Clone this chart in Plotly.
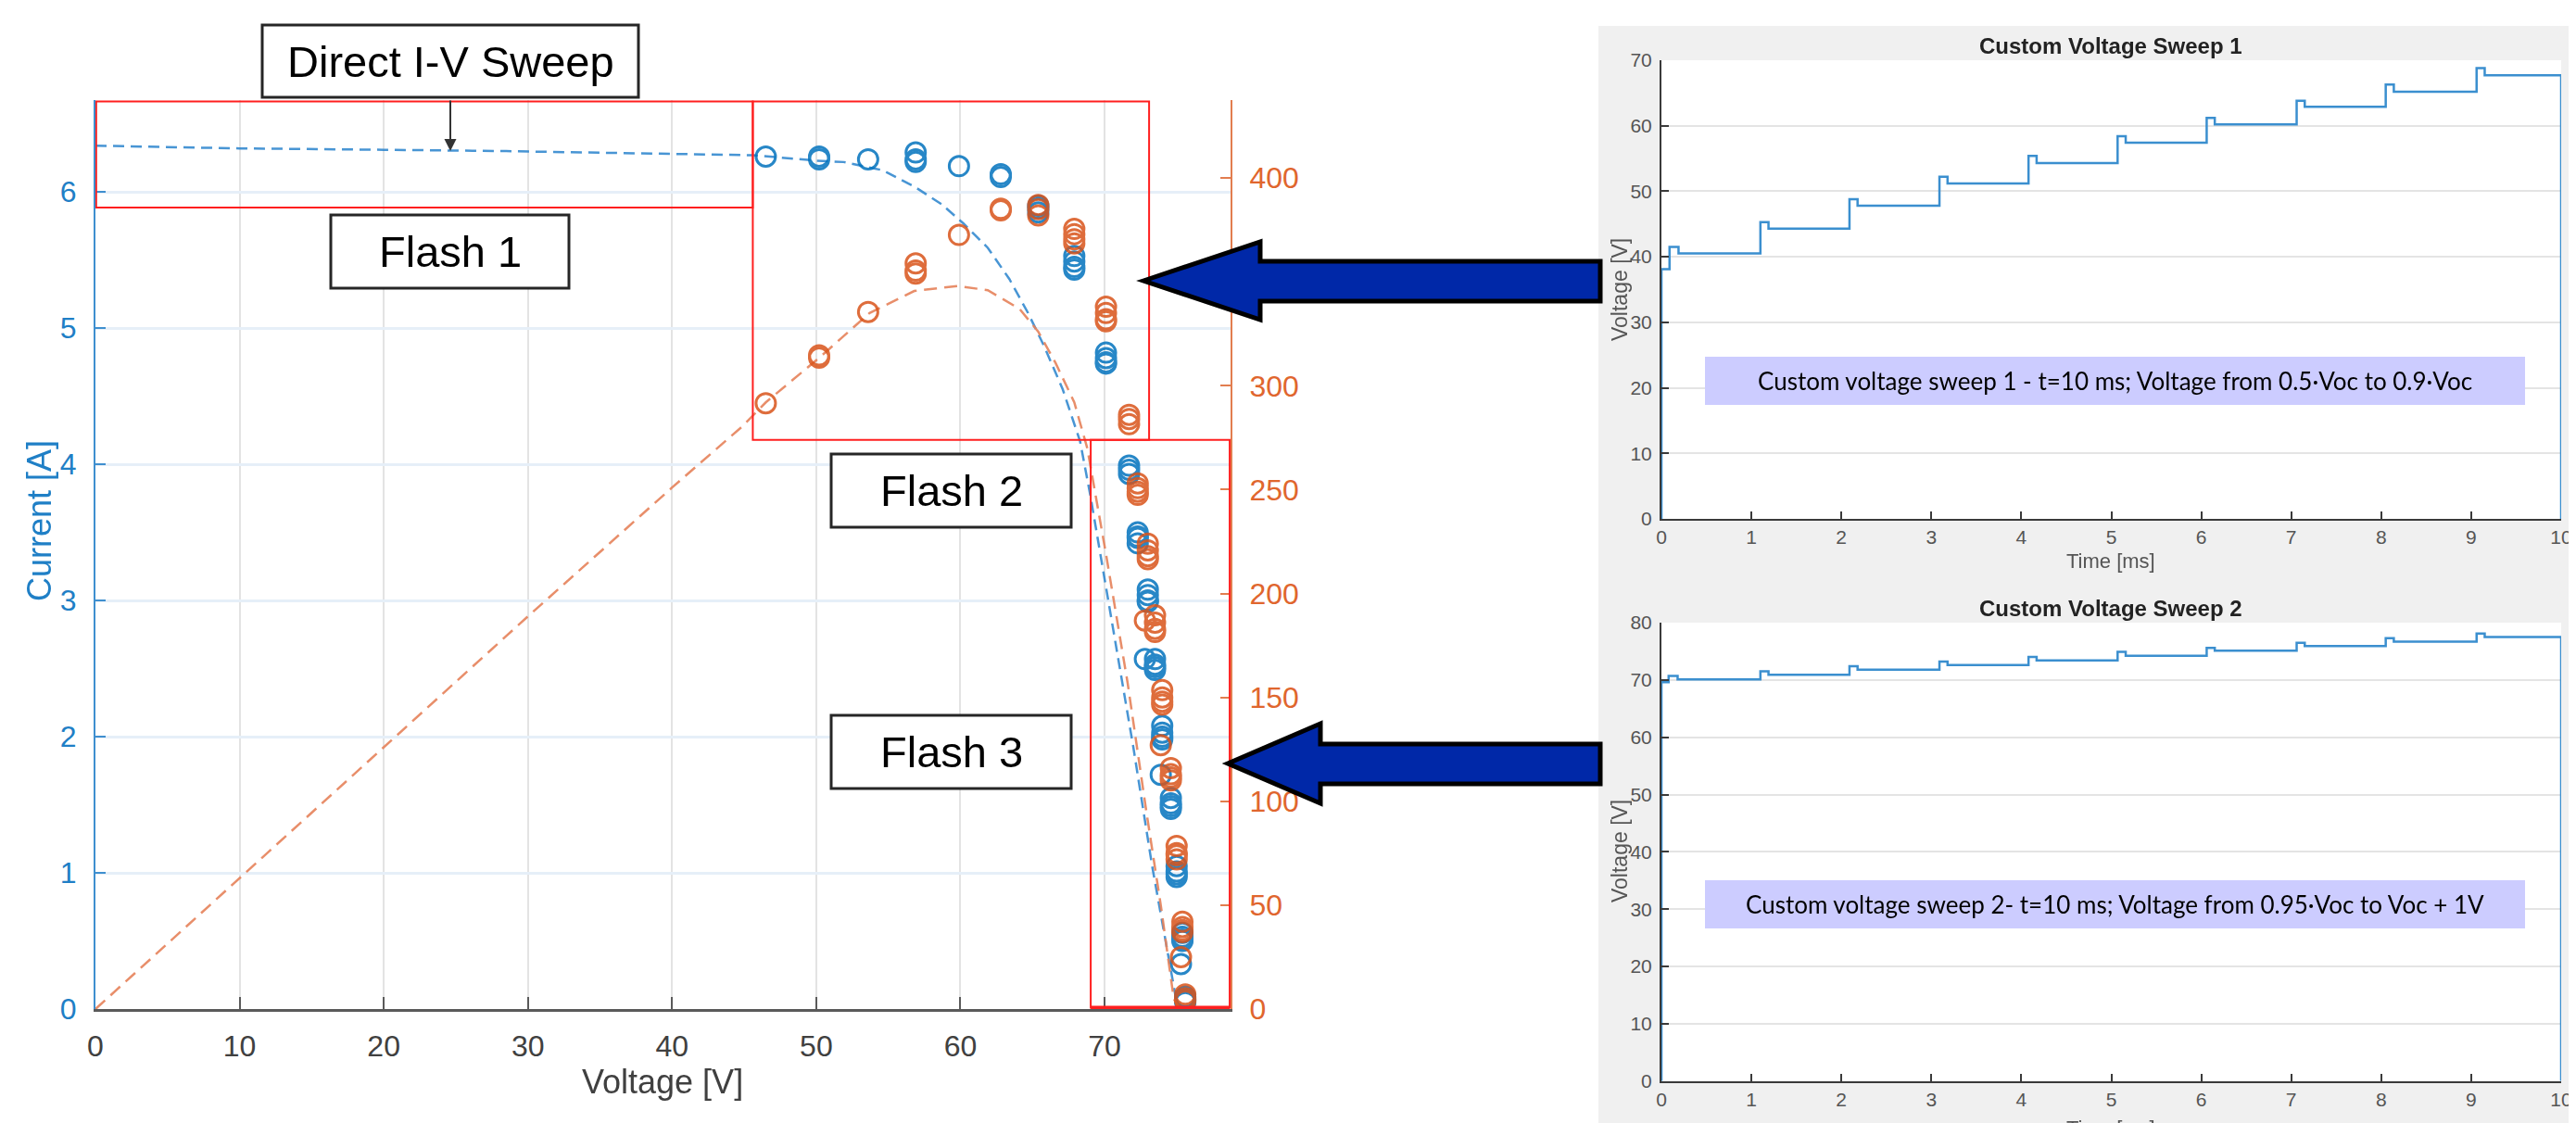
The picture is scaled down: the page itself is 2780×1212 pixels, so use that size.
import plotly.graph_objects as go

# page is 2780x1212; the html body keeps its default 8px margin, so the figure starts
# at (8, 8) and is sized to reach the page's right and bottom edges. All placements
# below are given in page pixels.
PAGE_W, PAGE_H = 2780, 1212
OFF = 8
W, H = PAGE_W - OFF, PAGE_H - OFF

# ---------------- data ----------------
# Direct I-V sweep (dashed curves)
iv_voltage = [0, 10, 20, 28.5, 40, 45.6, 50, 51.9, 54.6, 56.8, 58.7, 60.2, 61.9, 63.4, 64.7,
              65.8, 67.1, 68.3, 69.0, 70.5, 72.0, 73.3, 74.4, 75.0, 75.2]
iv_current = [6.34, 6.32, 6.31, 6.30, 6.28, 6.27, 6.23, 6.22, 6.16, 6.04, 5.91, 5.77, 5.59, 5.36, 5.11,
              4.87, 4.55, 4.17, 3.78, 2.85, 1.92, 1.05, 0.42, 0.05, 0.0]
pv_voltage = [0, 10, 20, 30, 40, 44.8, 46.5, 50.3, 53.7, 56.8, 59.8, 61.9, 64.1, 65.4, 66.6,
              67.9, 68.8, 70.1, 71.6, 72.9, 73.9, 74.8, 75.2]
pv_power = [0, 63, 126, 189, 251, 280, 292, 314, 335, 345.6, 348, 346, 337, 326, 311,
            292, 270, 219, 157, 95, 50, 5, 0]

# Flash measurements (repeated points per operating voltage)
flash_voltage = [46.5, 50.2, 50.2, 53.6, 56.9, 56.9, 56.9, 59.9, 62.8, 62.8,
                 65.4, 65.4, 65.4, 67.9, 67.9, 67.9, 67.9, 70.1, 70.1, 70.1, 70.1,
                 71.7, 71.7, 71.7,
                 72.3, 72.3, 72.3, 72.3, 73.0, 73.0, 73.0, 73.0, 73.5, 73.5, 73.5, 73.5,
                 74.0, 74.0, 74.0, 74.0, 74.6, 74.6, 74.6, 74.6, 75.0, 75.0, 75.0, 75.0,
                 75.4, 75.4, 75.4, 75.4, 75.6, 75.6, 75.6, 75.6, 72.8, 73.9, 75.3]
flash_current = [6.26, 6.24, 6.26, 6.24, 6.24, 6.29, 6.22, 6.19, 6.11, 6.13,
                 5.88, 5.90, 5.85, 5.49, 5.45, 5.53, 5.43, 4.78, 4.74, 4.82, 4.75,
                 3.96, 3.93, 3.99,
                 3.46, 3.50, 3.42, 3.47, 3.04, 3.00, 3.08, 2.99, 2.53, 2.57, 2.49, 2.51,
                 2.03, 2.08, 1.98, 2.00, 1.51, 1.55, 1.47, 1.49, 1.01, 1.05, 0.97, 0.99,
                 0.53, 0.56, 0.50, 0.51, 0.07, 0.09, 0.05, 0.06, 2.57, 1.72, 0.33]
flash_power = [291.6, 313.5, 314.6, 335.5, 355.4, 358.9, 354.0, 372.6, 384.4, 385.2,
               385.0, 387.0, 382.0, 373.0, 370.5, 375.5, 368.5, 335.0, 332.0, 338.0, 331.0,
               284.0, 281.5, 286.0,
               250.7, 253.0, 247.5, 249.0, 220.8, 218.0, 224.0, 216.5, 186.0, 189.5, 183.0, 181.5,
               150.0, 153.5, 146.5, 148.0, 113.0, 116.0, 110.0, 111.5, 75.0, 78.5, 72.0, 74.0,
               39.5, 42.0, 37.0, 38.0, 5.2, 7.0, 4.0, 5.0, 187.0, 127.0, 25.0]

voltage_ticks = [0, 10, 20, 30, 40, 50, 60, 70]
current_ticks = [0, 1, 2, 3, 4, 5, 6]
power_ticks = [0, 50, 100, 150, 200, 250, 300, 350, 400]

# Custom voltage sweeps (breakpoints, step shape)
sweep1_time = [0, 0, 0.09, 0.19, 1.10, 1.19, 2.09, 2.18, 3.09, 3.18, 4.08, 4.17, 5.07, 5.16,
               6.06, 6.15, 7.06, 7.15, 8.05, 8.14, 9.06, 9.15, 10.0]
sweep1_voltage = [0, 38.1, 41.5, 40.5, 45.3, 44.3, 48.8, 47.8, 52.2, 51.2, 55.4, 54.3, 58.4, 57.4,
                  61.2, 60.2, 63.8, 62.9, 66.3, 65.2, 68.8, 67.7, 0]
sweep2_time = [0, 0, 0.08, 0.18, 1.10, 1.19, 2.09, 2.18, 3.09, 3.18, 4.08, 4.17, 5.07, 5.16,
               6.06, 6.15, 7.06, 7.15, 8.05, 8.14, 9.06, 9.15, 10.0]
sweep2_voltage = [0, 69.6, 70.7, 70.1, 71.5, 70.9, 72.4, 71.8, 73.2, 72.6, 74.0, 73.4, 74.9, 74.2,
                  75.6, 75.1, 76.5, 75.9, 77.3, 76.7, 78.1, 77.5, 0]
time_ticks = [0, 1, 2, 3, 4, 5, 6, 7, 8, 9, 10]
sweep1_vticks = [0, 10, 20, 30, 40, 50, 60, 70]
sweep2_vticks = [0, 10, 20, 30, 40, 50, 60, 70, 80]

# ---------------- styling helpers ----------------
BLUE = "#0072BD"
ORANGE = "#D95319"
FONT = "Liberation Sans, Arial, sans-serif"


def px(x):
    return (x - OFF) / W


def py(y):
    return 1 - (y - OFF) / H


fig = go.Figure()

# dashed model curves
fig.add_trace(go.Scatter(x=iv_voltage, y=iv_current, mode="lines", xaxis="x", yaxis="y",
                         line=dict(color="rgba(40,130,205,0.85)", width=2.5, dash="12px,7px"),
                         hoverinfo="skip", showlegend=False))
fig.add_trace(go.Scatter(x=pv_voltage, y=pv_power, mode="lines", xaxis="x", yaxis="y2",
                         line=dict(color="rgba(230,130,90,0.9)", width=2.5, dash="14px,8px"),
                         hoverinfo="skip", showlegend=False))
# flash measurements
fig.add_trace(go.Scatter(x=flash_voltage, y=flash_current, mode="markers", xaxis="x", yaxis="y",
                         marker=dict(symbol="circle-open", size=21, color=BLUE, line=dict(width=3)),
                         opacity=0.85, showlegend=False))
fig.add_trace(go.Scatter(x=flash_voltage, y=flash_power, mode="markers", xaxis="x", yaxis="y2",
                         marker=dict(symbol="circle-open", size=21, color=ORANGE, line=dict(width=3)),
                         opacity=0.85, showlegend=False))
# custom sweeps
fig.add_trace(go.Scatter(x=sweep1_time, y=sweep1_voltage, mode="lines", line_shape="hv",
                         xaxis="x3", yaxis="y3", line=dict(color="#3b8fcf", width=2.5),
                         showlegend=False))
fig.add_trace(go.Scatter(x=sweep2_time, y=sweep2_voltage, mode="lines", line_shape="hv",
                         xaxis="x4", yaxis="y4", line=dict(color="#3b8fcf", width=2.5),
                         showlegend=False))

main_y_dom = [py(1089), py(108)]
main_x_dom = [px(103), px(1328)]
tickfont_main = dict(family=FONT, size=32)

common = dict(automargin=False, zeroline=False, showline=True, ticks="inside", tickwidth=2)
panel_tickfont = dict(family=FONT, size=21, color="#555")

layout = dict(
    template="none",
    width=W, height=H, autosize=False,
    margin=dict(l=0, r=0, t=0, b=0, pad=0, autoexpand=False),
    paper_bgcolor="white", plot_bgcolor="white",
    showlegend=False,
    xaxis=dict(common, domain=main_x_dom, range=[0, 78.74], anchor="y", tickvals=voltage_ticks,
               linecolor="#5a5a5a", linewidth=3, ticklen=13, tickcolor="#5a5a5a",
               tickfont=dict(tickfont_main, color="#404040"), ticklabelstandoff=10,
               showgrid=True, gridcolor="#e3e3e3", gridwidth=2),
    yaxis=dict(common, domain=main_y_dom, range=[0, 6.675], anchor="x", tickvals=current_ticks,
               linecolor="#3f8fcf", linewidth=2, ticklen=11, tickcolor="#3f8fcf",
               tickfont=dict(tickfont_main, color="#1f7fc6"), ticklabelstandoff=12,
               showgrid=True, gridcolor="#e6eff8", gridwidth=3),
    yaxis2=dict(common, range=[0, 437.5], overlaying="y", side="right", anchor="x",
                tickvals=power_ticks, linecolor="#e27d4f", linewidth=2, ticklen=11,
                tickcolor="#e27d4f", tickfont=dict(tickfont_main, color="#e0662e"),
                ticklabelstandoff=12, showgrid=False),
    xaxis3=dict(common, domain=[px(1793), px(2764)], range=[0, 10], anchor="y3", tickvals=time_ticks,
                linecolor="#3a3a3a", linewidth=2, ticklen=8, tickcolor="#3a3a3a",
                tickfont=panel_tickfont, showgrid=False, ticklabeloverflow="allow"),
    yaxis3=dict(common, domain=[py(560), py(65)], range=[0, 70], anchor="x3", tickvals=sweep1_vticks,
                linecolor="#3a3a3a", linewidth=2, ticklen=8, tickcolor="#3a3a3a",
                tickfont=panel_tickfont, ticklabelstandoff=4,
                showgrid=True, gridcolor="#e4e4e4", gridwidth=2),
    xaxis4=dict(common, domain=[px(1793), px(2764)], range=[0, 10], anchor="y4", tickvals=time_ticks,
                linecolor="#3a3a3a", linewidth=2, ticklen=8, tickcolor="#3a3a3a",
                tickfont=panel_tickfont, showgrid=False, ticklabeloverflow="allow"),
    yaxis4=dict(common, domain=[py(1166.7), py(672)], range=[0, 80], anchor="x4", tickvals=sweep2_vticks,
                linecolor="#3a3a3a", linewidth=2, ticklen=8, tickcolor="#3a3a3a",
                tickfont=panel_tickfont, ticklabelstandoff=4,
                showgrid=True, gridcolor="#e4e4e4", gridwidth=2),
)
fig.update_layout(**layout)

shapes = []
# grey MATLAB figure background for the right panels + white plot areas
shapes.append(dict(type="rect", xref="paper", yref="paper", x0=px(1725), x1=1, y0=0, y1=py(28),
                   fillcolor="#f0f0f0", line=dict(width=0), layer="below"))
for ax in ("3", "4"):
    shapes.append(dict(type="rect", xref=f"x{ax} domain", yref=f"y{ax} domain", x0=0, x1=1, y0=0, y1=1,
                       fillcolor="white", line=dict(width=0), layer="below"))

# red region boxes (data coordinates of the main chart)
red = dict(color="#ff1f1f", width=2)
shapes.append(dict(type="rect", xref="x", yref="y", x0=0.05, x1=45.6, y0=5.885, y1=6.665, line=red))
shapes.append(dict(type="rect", xref="x", yref="y", x0=45.6, x1=73.09, y0=4.18, y1=6.665, line=red))
shapes.append(dict(type="rect", xref="x", yref="y", x0=69.04, x1=78.68, y0=0.01, y1=4.18, line=red))
shapes.append(dict(type="line", xref="x", yref="y", x0=69.04, x1=78.68, y0=0.01, y1=0.01,
                   line=dict(color="#ff1f1f", width=4)))


# label boxes
def box(x0, y0, x1, y1):
    return dict(type="rect", xref="paper", yref="paper", x0=px(x0), x1=px(x1), y0=py(y1), y1=py(y0),
                fillcolor="white", line=dict(color="#262626", width=3), layer="above")


shapes.append(box(283, 27, 689, 105))
shapes.append(box(357, 232, 614, 311))
shapes.append(box(897, 490, 1156, 569))
shapes.append(box(897, 772, 1156, 851))

# lavender info boxes
for (y0, y1) in ((385, 437), (950, 1002)):
    shapes.append(dict(type="rect", xref="paper", yref="paper", x0=px(1840), x1=px(2725),
                       y0=py(y1), y1=py(y0), fillcolor="#ccccff", line=dict(width=0), layer="above"))


# big blue arrows
def arrow(tip_x, tip_y, base_x, head_top, head_bot, shaft_top, shaft_bot, end_x):
    pts = [(tip_x, tip_y), (base_x, head_top), (base_x, shaft_top), (end_x, shaft_top),
           (end_x, shaft_bot), (base_x, shaft_bot), (base_x, head_bot)]
    path = "M " + " L ".join(f"{px(a):.6f},{py(b):.6f}" for a, b in pts) + " Z"
    return dict(type="path", xref="paper", yref="paper", path=path, fillcolor="#0028a8",
                line=dict(color="black", width=5), layer="above")


shapes.append(arrow(1234, 303, 1360, 261, 345, 282, 325, 1727))
shapes.append(arrow(1325, 824, 1425, 781, 867, 803, 846, 1727))

fig.update_layout(shapes=shapes)

ann = []


def label(text, cx, cy, font, angle=0):
    return dict(text=text, x=px(cx), y=py(cy), xref="paper", yref="paper", showarrow=False,
                font=font, xanchor="center", yanchor="middle", textangle=angle)


big = dict(family=FONT, size=47, color="black")
for text, cx, cy in (("Direct I-V Sweep", 486, 66), ("Flash 1", 485.5, 271.5),
                     ("Flash 2", 1026.5, 529.5), ("Flash 3", 1026.5, 811.5)):
    ann.append(label(text, cx, cy, big))
# pointer of the direct I-V sweep label
ann.append(dict(text="", x=px(486), y=py(163), xref="paper", yref="paper", showarrow=True,
                ax=0, ay=-56, arrowhead=2, arrowsize=1.3, arrowwidth=2, arrowcolor="#333"))
# main axis titles
ann.append(label("Voltage [V]", 715, 1167, dict(family=FONT, size=36, color="#404040")))
ann.append(label("Current [A]", 42, 562, dict(family=FONT, size=36, color="#1f7fc6"), -90))
# panel titles and labels
for title, ty, ly, xy in (("Custom Voltage Sweep 1", 50, 312, 605),
                          ("Custom Voltage Sweep 2", 656, 918, 1217)):
    ann.append(label(f"<b>{title}</b>", 2278, ty, dict(family=FONT, size=24, color="#222")))
    ann.append(label("Voltage [V]", 1748, ly, dict(family=FONT, size=23, color="#555"), -90))
    ann.append(label("Time [ms]", 2278, xy, dict(family=FONT, size=22, color="#555")))
for text, cy in (("Custom voltage sweep 1 - t=10 ms; Voltage from 0.5·Voc to 0.9·Voc", 411),
                 ("Custom voltage sweep 2- t=10 ms; Voltage from 0.95·Voc to Voc + 1V", 976)):
    ann.append(label(text, 2282, cy, dict(family="Lato, Open Sans, sans-serif", size=26, color="black")))
fig.update_layout(annotations=ann)

fig.write_html("out.html")
